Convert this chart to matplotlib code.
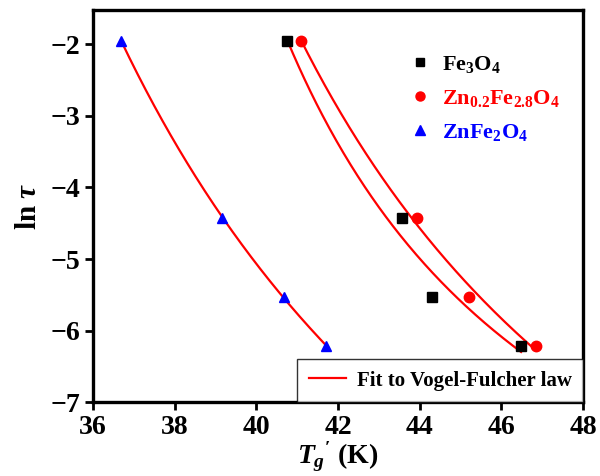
import numpy as np
import matplotlib
matplotlib.use("Agg")
import matplotlib.pyplot as plt
from matplotlib.lines import Line2D

plt.rcParams['font.family'] = ['Liberation Serif', 'DejaVu Serif']
plt.rcParams['font.weight'] = 'bold'
plt.rcParams['mathtext.fontset'] = 'custom'
plt.rcParams['mathtext.rm'] = 'Liberation Serif:bold'
plt.rcParams['mathtext.bf'] = 'Liberation Serif:bold'
plt.rcParams['mathtext.it'] = 'Liberation Serif:italic:bold'

# ln(tau) values shared by all samples
ln_tau = [-1.95, -4.42, -5.53, -6.22]

# freezing temperatures Tg' (K)
T_fe3o4 = [40.75, 43.57, 44.30, 46.48]
T_zn02 = [41.09, 43.94, 45.21, 46.85]
T_znfe2o4 = [36.69, 39.16, 40.68, 41.71]

series = [
    (T_fe3o4, r"Fe$_3$O$_4$", 'black', 's', 6.5),
    (T_zn02, r"Zn$_{0.2}$Fe$_{2.8}$O$_4$", 'red', 'o', 7.5),
    (T_znfe2o4, r"ZnFe$_2$O$_4$", 'blue', '^', 7.5),
]


def vf_fit(T, y):
    """ln tau = A + B/(T - T0), scan T0 and solve A,B by least squares"""
    T = np.asarray(T)
    y = np.asarray(y)
    best = None
    for T0 in np.linspace(T.min() - 40, T.min() - 0.05, 4000):
        X = np.column_stack([np.ones_like(T), 1.0 / (T - T0)])
        coef, *_ = np.linalg.lstsq(X, y, rcond=None)
        sse = np.sum((X @ coef - y) ** 2)
        if best is None or sse < best[0]:
            best = (sse, coef[0], coef[1], T0)
    return best[1:]


fig = plt.figure(figsize=(6.0, 4.76), dpi=100)
ax = fig.add_axes([0.155, 0.155, 0.817, 0.824])

handles = []
for T, label, color, marker, ms in series:
    A, B, T0 = vf_fit(T, ln_tau)
    tt = np.linspace(min(T), max(T), 200)
    ax.plot(tt, A + B / (tt - T0), color='red', lw=1.6, zorder=2)
    ax.plot(T, ln_tau, linestyle='none', marker=marker, color=color,
            markersize=ms, zorder=3)
    handles.append(Line2D([], [], linestyle='none', marker=marker, color=color,
                          markersize=ms - 1, label=label))

leg1 = ax.legend(handles=handles, loc='upper left', bbox_to_anchor=(0.60, 0.94),
                 frameon=False, fontsize=16, handletextpad=0.35, labelspacing=0.6,
                 handlelength=1.2)
for txt, (_, _, color, _, _) in zip(leg1.get_texts(), series):
    txt.set_color(color)
ax.add_artist(leg1)

fit_handle = Line2D([], [], color='red', lw=1.6, label='Fit to Vogel-Fulcher law')
leg2 = ax.legend(handles=[fit_handle], loc='lower right', fontsize=15,
                 frameon=True, fancybox=False, borderaxespad=0.0,
                 handlelength=1.8, handletextpad=0.5, borderpad=0.55)
leg2.get_frame().set_edgecolor('black')
leg2.get_frame().set_linewidth(1.0)

ax.set_xlim(36, 48)
ax.set_ylim(-7, -1.52)
ax.set_xticks([36, 38, 40, 42, 44, 46, 48])
ax.set_yticks([-7, -6, -5, -4, -3, -2])
ax.tick_params(direction='out', length=6, width=2, labelsize=20, pad=3)
for sp in ax.spines.values():
    sp.set_linewidth(2.4)

ax.set_xlabel(r"$T_g{'}$ (K)", fontsize=20, fontweight='bold', labelpad=0)
ax.set_ylabel(r"ln $\tau$", fontsize=21, fontweight='bold', labelpad=6)

fig.savefig('out.png', dpi=100)
